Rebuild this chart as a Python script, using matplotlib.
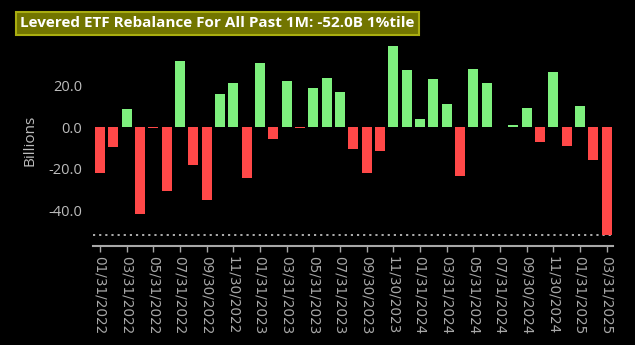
import matplotlib
matplotlib.use("Agg")
import matplotlib.pyplot as plt
import numpy as np
import pandas as pd

plt.rcParams['font.family'] = ['Open Sans', 'DejaVu Sans']

# monthly levered ETF rebalance flows, billions USD
months = pd.date_range('2022-01-31', '2025-03-31', freq='ME')
flows = [-22.2, -9.3, 8.7, -41.8, -0.5, -30.7, 32.0, -18.0, -35.0, 16.1,
         21.4, -24.6, 31.2, -5.6, 22.5, -0.5, 18.8, 23.6, 17.0, -10.5,
         -22.2, -11.3, 39.2, 27.7, 4.0, 23.3, 11.1, -23.5, 28.3, 21.5,
         0.0, 1.1, 9.3, -6.9, 26.5, -8.8, 10.5, -15.8, -52.0]
latest = -52.0
title = 'Levered ETF Rebalance For All Past 1M: -52.0B 1%tile'

tick_labels = [d.strftime('%m/%d/%Y') for d in months]

fig = plt.figure(figsize=(6.35, 3.45), dpi=100, facecolor='black')
ax = fig.add_axes([0.147, 0.287, 0.819, 0.614], facecolor='black')

x = np.arange(len(flows))
colors = ['#7ef07e' if v >= 0 else '#ff4848' for v in flows]
ax.bar(x, flows, width=0.75, color=colors, zorder=3)

# dotted reference line at latest reading
ax.axhline(latest, color='#bbbbbb', linestyle=(0, (1.2, 2.2)), linewidth=1.3, zorder=2)

ax.set_xlim(-0.5, len(flows) - 0.5)
ax.set_ylim(-57.3, 45)
ax.set_yticks([20, 0, -20, -40])
ax.set_yticklabels(['20.0', '0.0', '-20.0', '-40.0'])
ax.set_xticks(x[::2])
ax.set_xticklabels(tick_labels[::2], rotation=270, fontsize=9.8,
                   color='#c8c8c8', family='DejaVu Sans')

for s in ['top', 'right', 'left']:
    ax.spines[s].set_visible(False)
ax.spines['bottom'].set_color('#a8a8a8')
ax.spines['bottom'].set_linewidth(1.5)
ax.tick_params(axis='x', colors='#a8a8a8', length=4, width=1, pad=3)
ax.tick_params(axis='y', length=0, labelcolor='#bdbdbd', labelsize=10.5, pad=8)
ax.set_ylabel('Billions', color='#bdbdbd', fontsize=11, labelpad=8)

fig.text(0.032, 0.933, title, color='white', fontsize=11, fontweight='bold',
         ha='left', va='center',
         bbox=dict(boxstyle='square,pad=0.3', facecolor='#727500',
                   edgecolor='#a9ad10', linewidth=1.5))

fig.savefig('out.png', dpi=100, facecolor='black')
